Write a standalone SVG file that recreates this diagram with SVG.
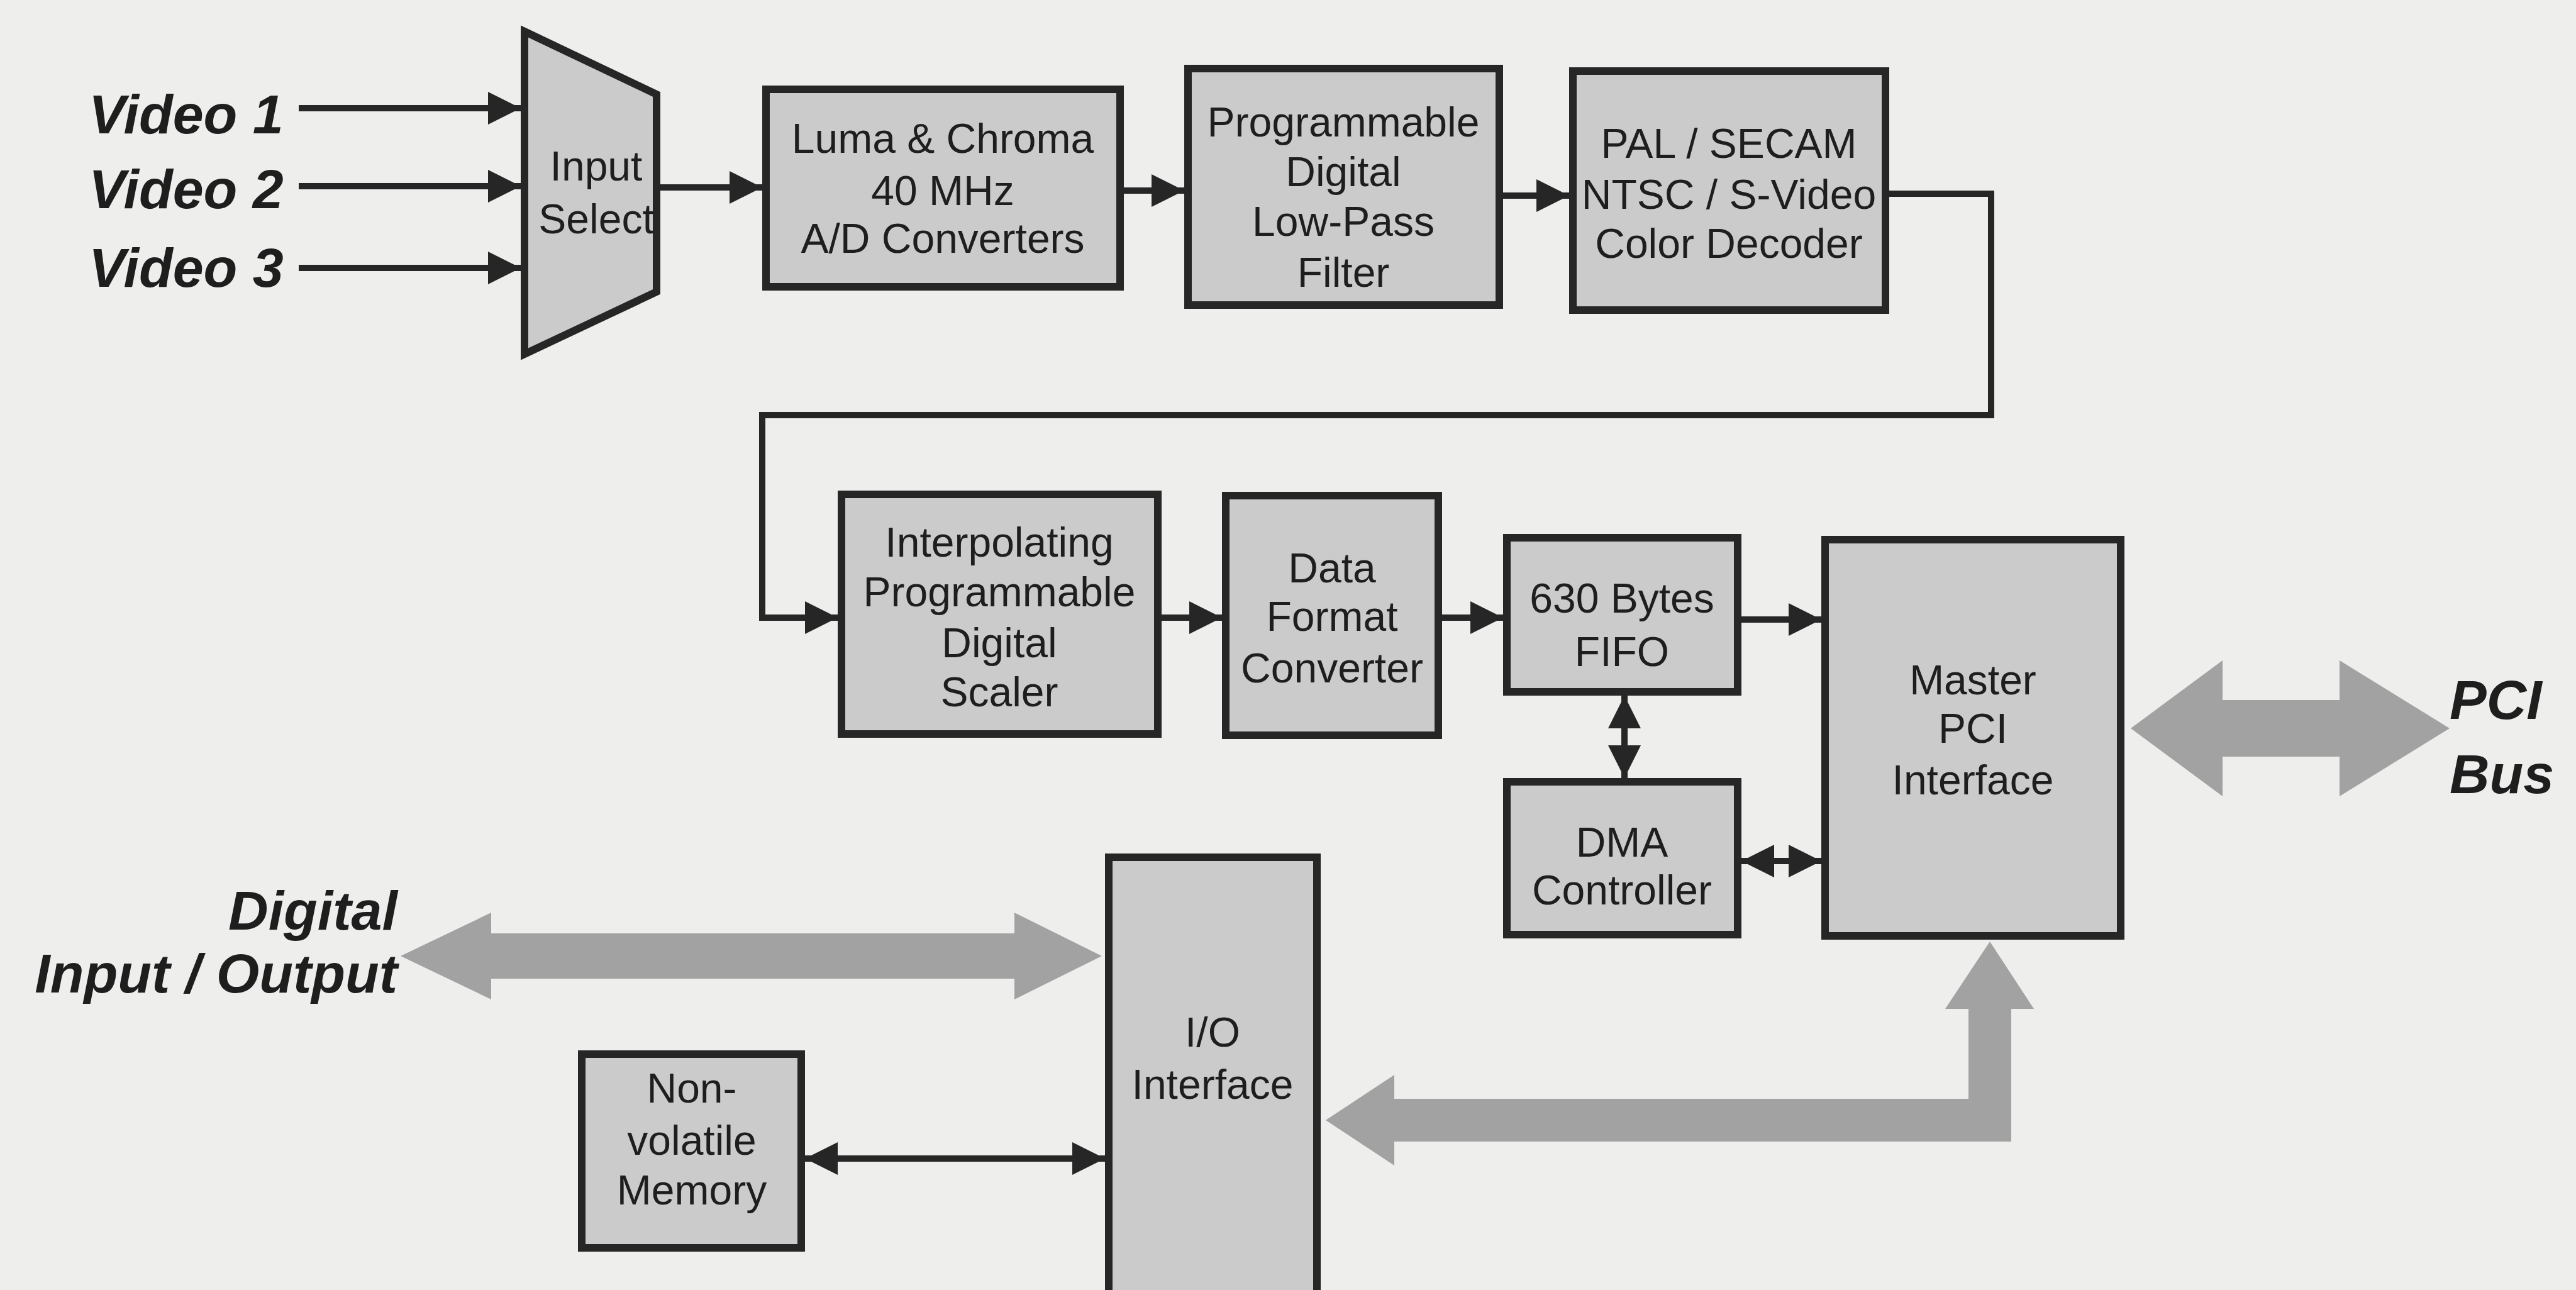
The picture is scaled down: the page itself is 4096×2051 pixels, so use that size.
<svg xmlns="http://www.w3.org/2000/svg" width="4096" height="2051" viewBox="0 0 4096 2051">
<style>
.bg{fill:#eeeeec}
.box{fill:#cbcbcb;stroke:#262626;stroke-width:12}
.t{font-family:"Liberation Sans",Arial,sans-serif;font-size:66px;fill:#1e1e1e;text-anchor:middle}
.lbl{font-family:"Liberation Sans",Arial,sans-serif;font-size:88px;font-weight:bold;font-style:italic;fill:#1e1e1e}
.ln{stroke:#262626;stroke-width:10;fill:none}
.bus{fill:#a2a2a2}
</style>
<defs>
<marker id="ah" viewBox="0 0 52 52" markerUnits="userSpaceOnUse" markerWidth="52" markerHeight="52" refX="52" refY="26" orient="auto-start-reverse">
<path d="M0,0 L52,26 L0,52 Z" fill="#262626"/>
</marker>
</defs>
<rect class="bg" x="0" y="0" width="4096" height="2051"/>

<g id="labels">
<text class="lbl" x="141" y="212">Video 1</text>
<text class="lbl" x="141" y="331">Video 2</text>
<text class="lbl" x="141" y="456">Video 3</text>
<text class="lbl" x="632" y="1478" text-anchor="end">Digital</text>
<text class="lbl" x="632" y="1578" text-anchor="end">Input / Output</text>
<text class="lbl" x="3895" y="1143">PCI</text>
<text class="lbl" x="3895" y="1261">Bus</text>
</g>

<g id="connectors">
<line class="ln" x1="475" y1="172" x2="828" y2="172" marker-end="url(#ah)"/>
<line class="ln" x1="475" y1="296" x2="828" y2="296" marker-end="url(#ah)"/>
<line class="ln" x1="475" y1="426" x2="828" y2="426" marker-end="url(#ah)"/>
<line class="ln" x1="1044" y1="298" x2="1212" y2="298" marker-end="url(#ah)"/>
<line class="ln" x1="1787" y1="303" x2="1883" y2="303" marker-end="url(#ah)"/>
<line class="ln" x1="2390" y1="311" x2="2495" y2="311" marker-end="url(#ah)"/>
<path class="ln" d="M3004,308 H3166 V660 H1212 V982 H1332" marker-end="url(#ah)"/>
<line class="ln" x1="1847" y1="982" x2="1943" y2="982" marker-end="url(#ah)"/>
<line class="ln" x1="2293" y1="982" x2="2390" y2="982" marker-end="url(#ah)"/>
<line class="ln" x1="2769" y1="985" x2="2896" y2="985" marker-end="url(#ah)"/>
<line class="ln" x1="2583" y1="1106" x2="2583" y2="1237" marker-start="url(#ah)" marker-end="url(#ah)"/>
<line class="ln" x1="2769" y1="1369" x2="2896" y2="1369" marker-start="url(#ah)" marker-end="url(#ah)"/>
<line class="ln" x1="1280" y1="1842" x2="1757" y2="1842" marker-start="url(#ah)" marker-end="url(#ah)"/>
<path class="bus" d="M3388,1158 L3534,1050 L3534,1113 L3720,1113 L3720,1050 L3895,1158 L3720,1266 L3720,1203 L3534,1203 L3534,1266 Z"/>
<path class="bus" d="M637,1520 L781,1451 L781,1484 L1613,1484 L1613,1451 L1752,1520 L1613,1589 L1613,1556 L781,1556 L781,1589 Z"/>
<path class="bus" d="M2108,1781 L2217,1709 L2217,1747 L3130,1747 L3130,1604 L3093,1604 L3164,1497 L3234,1604 L3198,1604 L3198,1815 L2217,1815 L2217,1853 Z"/>
</g>

<g id="input-select">
<polygon class="box" points="834,50 1044,150 1044,464 834,563"/>
<text class="t" x="948" y="287">Input</text>
<text class="t" x="948" y="371">Select</text>
</g>

<g id="luma-chroma">
<rect class="box" x="1218" y="142" width="563" height="314"/>
<text class="t" x="1499" y="243">Luma &amp; Chroma</text>
<text class="t" x="1499" y="326">40 MHz</text>
<text class="t" x="1499" y="402">A/D Converters</text>
</g>

<g id="lowpass">
<rect class="box" x="1889" y="109" width="495" height="376"/>
<text class="t" x="2136" y="217">Programmable</text>
<text class="t" x="2136" y="296">Digital</text>
<text class="t" x="2136" y="375">Low-Pass</text>
<text class="t" x="2136" y="456">Filter</text>
</g>

<g id="decoder">
<rect class="box" x="2501" y="113" width="497" height="380"/>
<text class="t" x="2749" y="251">PAL / SECAM</text>
<text class="t" x="2749" y="332">NTSC / S-Video</text>
<text class="t" x="2749" y="410">Color Decoder</text>
</g>

<g id="scaler">
<rect class="box" x="1338" y="786" width="503" height="381"/>
<text class="t" x="1589" y="885">Interpolating</text>
<text class="t" x="1589" y="964">Programmable</text>
<text class="t" x="1589" y="1045">Digital</text>
<text class="t" x="1589" y="1123">Scaler</text>
</g>

<g id="data-format">
<rect class="box" x="1949" y="788" width="338" height="381"/>
<text class="t" x="2118" y="926">Data</text>
<text class="t" x="2118" y="1003">Format</text>
<text class="t" x="2118" y="1085">Converter</text>
</g>

<g id="fifo">
<rect class="box" x="2396" y="855" width="367" height="245"/>
<text class="t" x="2579" y="974">630 Bytes</text>
<text class="t" x="2579" y="1059">FIFO</text>
</g>

<g id="dma">
<rect class="box" x="2396" y="1243" width="367" height="243"/>
<text class="t" x="2579" y="1362">DMA</text>
<text class="t" x="2579" y="1438">Controller</text>
</g>

<g id="master-pci">
<rect class="box" x="2902" y="858" width="470" height="630"/>
<text class="t" x="3137" y="1104">Master</text>
<text class="t" x="3137" y="1181">PCI</text>
<text class="t" x="3137" y="1263">Interface</text>
</g>

<g id="io-interface">
<rect class="box" x="1763" y="1363" width="331" height="800"/>
<text class="t" x="1928" y="1664">I/O</text>
<text class="t" x="1928" y="1747">Interface</text>
</g>

<g id="nonvolatile">
<rect class="box" x="925" y="1676" width="349" height="308"/>
<text class="t" x="1100" y="1753">Non-</text>
<text class="t" x="1100" y="1836">volatile</text>
<text class="t" x="1100" y="1915">Memory</text>
</g>
</svg>
